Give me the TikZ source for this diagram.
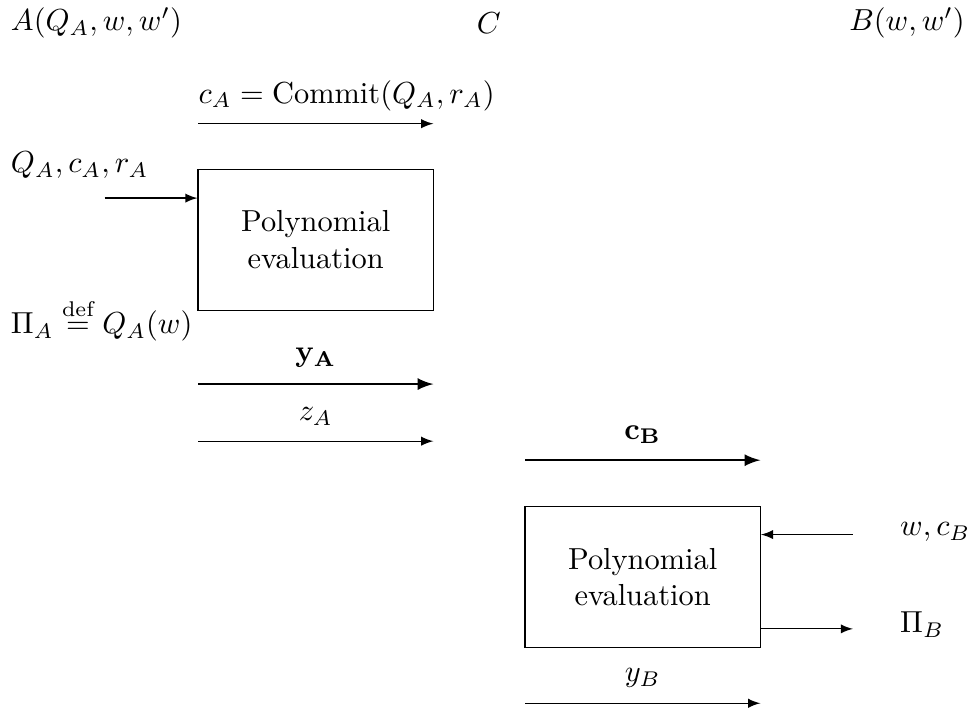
\documentclass[tikz,border=0pt]{standalone}
\usepackage{amsmath}
\usepackage{tikz}
\usetikzlibrary{arrows,positioning,calc}

\begin{document}
\begin{tikzpicture}[
  party/.style={inner sep=0pt},
  evalbox/.style={draw,align=center,minimum width=2.72cm,minimum height=1.63cm,inner sep=2pt},
  msg/.style={-latex,line width=0.4pt},
  bigmsg/.style={-latex,line width=0.8pt},
  lbl/.style={inner sep=0pt}]
  \useasboundingbox (0,0) rectangle (11.26,-8.243);
  % parties
  \node[party,anchor=west] (pA) at (0.12,-0.27) {$A(Q_A,w,w')$};
  \node[party] (pC) at (5.65,-0.27) {$C$};
  \node[party,anchor=east] (pB) at (11.16,-0.27) {$B(w,w')$};
  % A side
  \coordinate (cmS) at (2.29,-1.43);
  \coordinate (cmE) at (5.01,-1.43);
  \draw[msg] (cmS) -- (cmE);
  \node[lbl,anchor=south west] (cmL) at ($(cmS)+(0,0.14)$) {$c_A=\text{Commit}(Q_A,r_A)$};
  \node[evalbox] (evA) at (3.65,-2.77) {Polynomial\\evaluation};
  \coordinate (inA) at (1.21,-2.29);
  \node[lbl,anchor=south west] (inAl) at (0.12,-2.07) {$Q_A,c_A,r_A$};
  \draw[msg] (inA) -- (evA.west |- inA);
  \node[lbl,anchor=west] (piA) at (0.12,-3.70) {$\Pi_A\stackrel{\text{def}}{=}Q_A(w)$};
  \coordinate (yAS) at (2.29,-4.44);
  \coordinate (yAE) at (5.01,-4.44);
  \draw[bigmsg] (yAS) -- node[above,inner sep=5pt] {$\mathbf{y_A}$} (yAE);
  \coordinate (zAS) at (2.29,-5.10);
  \coordinate (zAE) at (5.01,-5.10);
  \draw[msg] (zAS) -- node[above,inner sep=5pt] {$z_A$} (zAE);
  % B side
  \coordinate (cBS) at (6.07,-5.32);
  \coordinate (cBE) at (8.79,-5.32);
  \draw[bigmsg] (cBS) -- node[above,inner sep=5pt] {$\mathbf{c_B}$} (cBE);
  \node[evalbox] (evB) at (7.43,-6.67) {Polynomial\\evaluation};
  \coordinate (inB) at (9.86,-6.18);
  \node[lbl,anchor=west] (inBl) at (10.40,-6.15) {$w,c_B$};
  \draw[msg] (inB) -- (evB.east |- inB);
  \coordinate (outB) at (9.86,-7.27);
  \node[lbl,anchor=west] (piB) at (10.40,-7.22) {$\Pi_B$};
  \draw[msg] (evB.east |- outB) -- (outB);
  \coordinate (yBS) at (6.07,-8.13);
  \coordinate (yBE) at (8.79,-8.13);
  \draw[msg] (yBS) -- node[above,inner sep=5pt] {$y_B$} (yBE);
\end{tikzpicture}
\end{document}
